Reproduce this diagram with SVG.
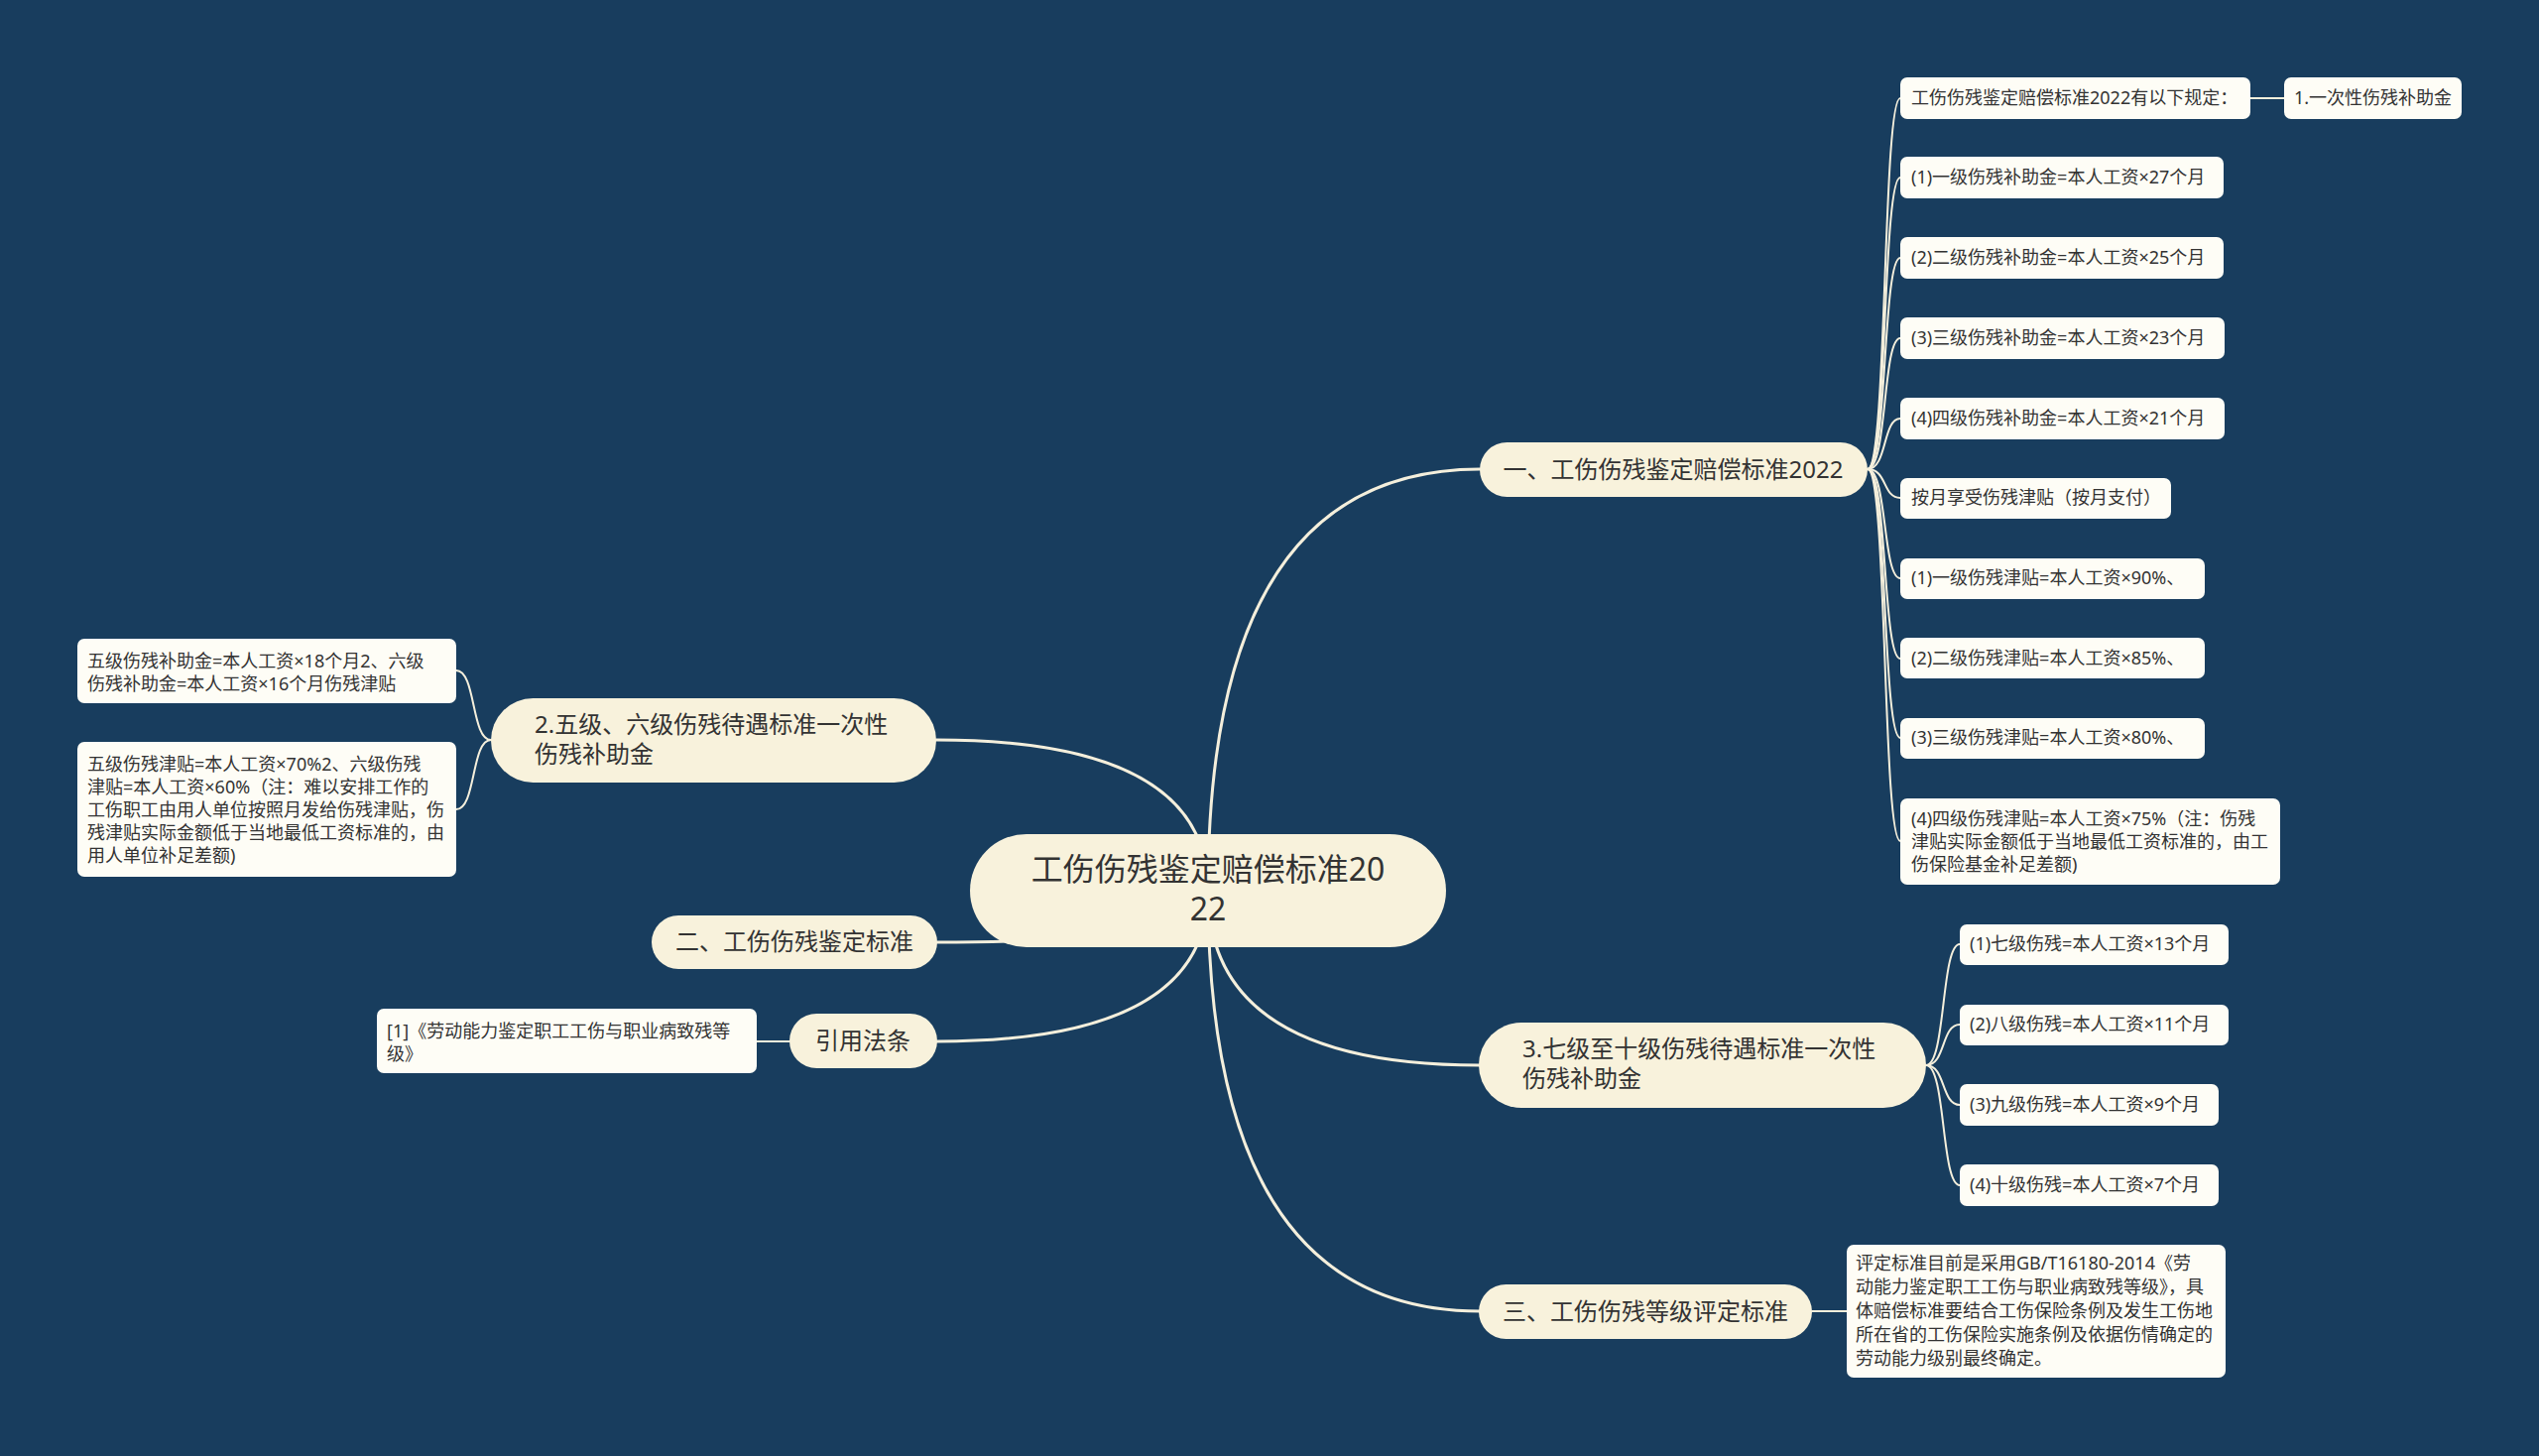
<svg xmlns="http://www.w3.org/2000/svg" width="2560" height="1468" viewBox="0 0 2560 1468">
<style>
text{font-family:"Noto Sans","Noto Sans CJK SC",sans-serif;fill:#333333}
.root{fill:#f8f2dc}
.l1{fill:#f8f2dc}
.leaf{fill:#fefdf6}
.t1{font-size:24px}
.t0{font-size:32px}
.t2{font-size:18px}
.c{fill:none;stroke:#f4efdc;stroke-width:3;stroke-linecap:round}
.c2{fill:none;stroke:#f4efdc;stroke-width:2;stroke-linecap:round}
</style>
<rect width="2560" height="1468" fill="#183d5e"/>
<g id="connectors">
<path class="c" d="M1218,898 Q1218,473 1492,473"/>
<path class="c" d="M1218,898 Q1218,1074 1492,1074"/>
<path class="c" d="M1218,898 Q1218,1322 1492,1322"/>
<path class="c" d="M1218,898 Q1218,746 944,746"/>
<path class="c" d="M1218,898 Q1218,950 945,950"/>
<path class="c" d="M1218,898 Q1218,1050 945,1050"/>
<path class="c2" d="M1883,473 C1903,473 1898,99 1916,99"/>
<path class="c2" d="M1883,473 C1903,473 1898,179 1916,179"/>
<path class="c2" d="M1883,473 C1903,473 1898,260 1916,260"/>
<path class="c2" d="M1883,473 C1903,473 1898,341 1916,341"/>
<path class="c2" d="M1883,473 C1903,473 1898,422 1916,422"/>
<path class="c2" d="M1883,473 C1903,473 1898,502 1916,502"/>
<path class="c2" d="M1883,473 C1903,473 1898,583 1916,583"/>
<path class="c2" d="M1883,473 C1903,473 1898,664 1916,664"/>
<path class="c2" d="M1883,473 C1903,473 1898,744 1916,744"/>
<path class="c2" d="M1883,473 C1903,473 1898,848 1916,848"/>
<path class="c2" d="M2269,99 L2303,99"/>
<path class="c2" d="M1942,1074 C1962,1074 1957,952 1976,952"/>
<path class="c2" d="M1942,1074 C1962,1074 1957,1033 1976,1033"/>
<path class="c2" d="M1942,1074 C1962,1074 1957,1114 1976,1114"/>
<path class="c2" d="M1942,1074 C1962,1074 1957,1195 1976,1195"/>
<path class="c2" d="M1827,1322 L1862,1322"/>
<path class="c2" d="M495,746 C475,746 480,676 460,676"/>
<path class="c2" d="M495,746 C475,746 480,816 460,816"/>
<path class="c2" d="M796,1050 L763,1050"/>
</g>
<g id="root">
<rect class="root" x="978" y="841" width="480" height="114" rx="57"/>
<text class="t0" x="1218" y="888" text-anchor="middle">工伤伤残鉴定赔偿标准20</text>
<text class="t0" x="1218" y="928" text-anchor="middle">22</text>
</g>
<g id="n-a">
<rect class="l1" x="1492" y="446" width="391" height="55" rx="27.5"/>
<text class="t1" x="1687" y="482" text-anchor="middle">一、工伤伤残鉴定赔偿标准2022</text>
</g>
<g id="n-b">
<rect class="l1" x="1491" y="1031" width="451" height="86" rx="43"/>
<text class="t1" x="1535" y="1066">3.七级至十级伤残待遇标准一次性</text>
<text class="t1" x="1535" y="1096">伤残补助金</text>
</g>
<g id="n-c">
<rect class="l1" x="1491" y="1295" width="336" height="55" rx="27.5"/>
<text class="t1" x="1659" y="1331" text-anchor="middle">三、工伤伤残等级评定标准</text>
</g>
<g id="n-d">
<rect class="l1" x="495" y="704" width="449" height="85" rx="42.5"/>
<text class="t1" x="539" y="739">2.五级、六级伤残待遇标准一次性</text>
<text class="t1" x="539" y="769">伤残补助金</text>
</g>
<g id="n-e">
<rect class="l1" x="657" y="923" width="288" height="54" rx="27"/>
<text class="t1" x="801" y="958" text-anchor="middle">二、工伤伤残鉴定标准</text>
</g>
<g id="n-f">
<rect class="l1" x="796" y="1022" width="149" height="55" rx="27.5"/>
<text class="t1" x="870" y="1058" text-anchor="middle">引用法条</text>
</g>
<g id="a1"><rect class="leaf" x="1916" y="78" width="353" height="42" rx="7"/><text class="t2" x="1927" y="105">工伤伤残鉴定赔偿标准2022有以下规定：</text></g>
<g id="a1x"><rect class="leaf" x="2303" y="78" width="179" height="42" rx="7"/><text class="t2" x="2313" y="105">1.一次性伤残补助金</text></g>
<g id="a2"><rect class="leaf" x="1916" y="158" width="326" height="42" rx="7"/><text class="t2" x="1927" y="185">(1)一级伤残补助金=本人工资×27个月</text></g>
<g id="a3"><rect class="leaf" x="1916" y="239" width="326" height="42" rx="7"/><text class="t2" x="1927" y="266">(2)二级伤残补助金=本人工资×25个月</text></g>
<g id="a4"><rect class="leaf" x="1916" y="320" width="327" height="42" rx="7"/><text class="t2" x="1927" y="347">(3)三级伤残补助金=本人工资×23个月</text></g>
<g id="a5"><rect class="leaf" x="1916" y="401" width="327" height="42" rx="7"/><text class="t2" x="1927" y="428">(4)四级伤残补助金=本人工资×21个月</text></g>
<g id="a6"><rect class="leaf" x="1916" y="482" width="273" height="41" rx="7"/><text class="t2" x="1927" y="508">按月享受伤残津贴（按月支付）</text></g>
<g id="a7"><rect class="leaf" x="1916" y="563" width="307" height="41" rx="7"/><text class="t2" x="1927" y="589">(1)一级伤残津贴=本人工资×90%、</text></g>
<g id="a8"><rect class="leaf" x="1916" y="643" width="307" height="41" rx="7"/><text class="t2" x="1927" y="670">(2)二级伤残津贴=本人工资×85%、</text></g>
<g id="a9"><rect class="leaf" x="1916" y="724" width="307" height="41" rx="7"/><text class="t2" x="1927" y="750">(3)三级伤残津贴=本人工资×80%、</text></g>
<g id="a10"><rect class="leaf" x="1916" y="805" width="383" height="87" rx="7"/>
<text class="t2" x="1927" y="832">(4)四级伤残津贴=本人工资×75%（注：伤残</text>
<text class="t2" x="1927" y="855">津贴实际金额低于当地最低工资标准的，由工</text>
<text class="t2" x="1927" y="878">伤保险基金补足差额)</text></g>
<g id="b1"><rect class="leaf" x="1976" y="932" width="271" height="41" rx="7"/><text class="t2" x="1986" y="958">(1)七级伤残=本人工资×13个月</text></g>
<g id="b2"><rect class="leaf" x="1976" y="1013" width="271" height="41" rx="7"/><text class="t2" x="1986" y="1039">(2)八级伤残=本人工资×11个月</text></g>
<g id="b3"><rect class="leaf" x="1976" y="1093" width="261" height="42" rx="7"/><text class="t2" x="1986" y="1120">(3)九级伤残=本人工资×9个月</text></g>
<g id="b4"><rect class="leaf" x="1976" y="1174" width="261" height="42" rx="7"/><text class="t2" x="1986" y="1201">(4)十级伤残=本人工资×7个月</text></g>
<g id="c1"><rect class="leaf" x="1862" y="1255" width="382" height="134" rx="7"/>
<text class="t2" x="1871" y="1280">评定标准目前是采用GB/T16180-2014《劳</text>
<text class="t2" x="1871" y="1304">动能力鉴定职工工伤与职业病致残等级》，具</text>
<text class="t2" x="1871" y="1328">体赔偿标准要结合工伤保险条例及发生工伤地</text>
<text class="t2" x="1871" y="1352">所在省的工伤保险实施条例及依据伤情确定的</text>
<text class="t2" x="1871" y="1376">劳动能力级别最终确定。</text></g>
<g id="d1"><rect class="leaf" x="78" y="644" width="382" height="65" rx="7"/>
<text class="t2" x="88" y="673">五级伤残补助金=本人工资×18个月2、六级</text>
<text class="t2" x="88" y="696">伤残补助金=本人工资×16个月伤残津贴</text></g>
<g id="d2"><rect class="leaf" x="78" y="748" width="382" height="136" rx="7"/>
<text class="t2" x="88" y="777">五级伤残津贴=本人工资×70%2、六级伤残</text>
<text class="t2" x="88" y="800">津贴=本人工资×60%（注：难以安排工作的</text>
<text class="t2" x="88" y="823">工伤职工由用人单位按照月发给伤残津贴，伤</text>
<text class="t2" x="88" y="846">残津贴实际金额低于当地最低工资标准的，由</text>
<text class="t2" x="88" y="869">用人单位补足差额)</text></g>
<g id="f1"><rect class="leaf" x="380" y="1017" width="383" height="65" rx="7"/>
<text class="t2" x="390" y="1046">[1]《劳动能力鉴定职工工伤与职业病致残等</text>
<text class="t2" x="390" y="1069">级》</text></g>
</svg>
